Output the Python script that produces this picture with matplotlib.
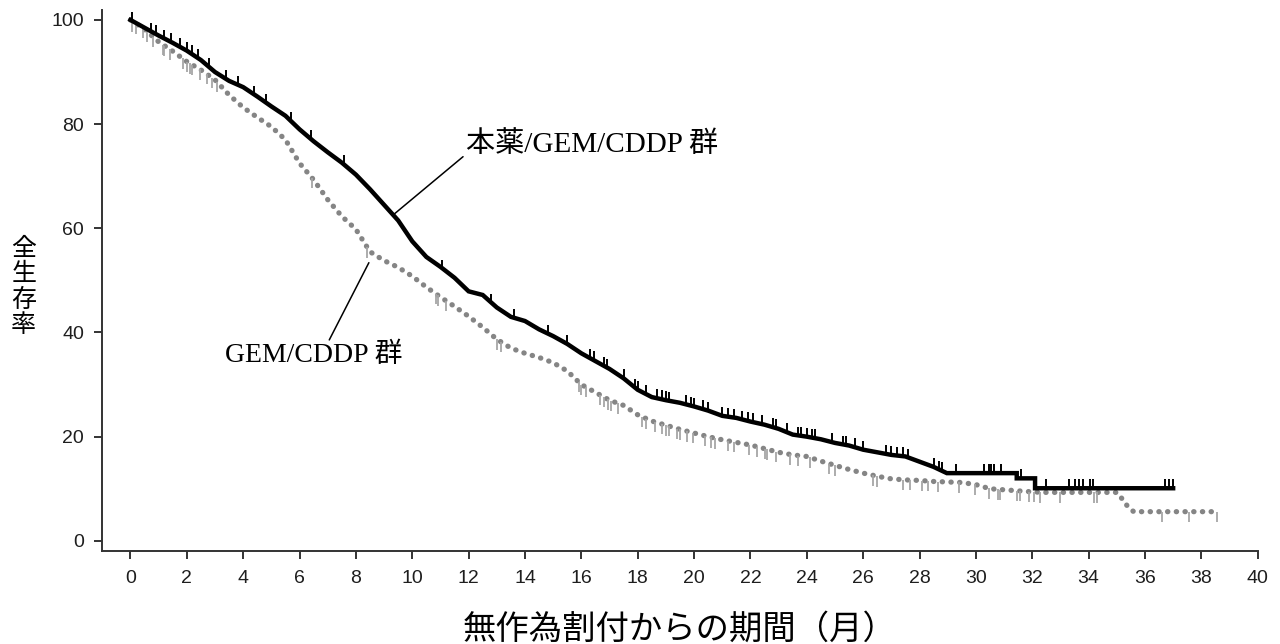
import numpy as np
import matplotlib
matplotlib.use("Agg")
import matplotlib.pyplot as plt

# 本薬/GEM/CDDP 群 (black, solid)
t_drug = [0, 0.5, 1.0, 1.5, 2.0, 2.5, 3.0, 3.5, 4.0, 4.5, 5.0, 5.5, 6.0, 6.5, 7.0,
          7.5, 8.0, 8.5, 9.0, 9.5, 10.0, 10.5, 11.0, 11.5, 12.0, 12.5, 13.0, 13.5,
          14.0, 14.5, 15.0, 15.5, 16.0, 16.5, 17.0, 17.5, 18.0, 18.5, 19.0, 19.5,
          20.0, 20.5, 21.0, 21.5, 22.0, 22.5, 23.0, 23.5, 24.0, 24.5, 25.0, 25.5,
          26.0, 26.5, 27.0, 27.5, 28.0, 28.5, 28.97, 31.45, 31.45, 32.1, 32.1, 37.0]
s_drug = [100, 98.5, 97.0, 95.6, 94.1, 92.3, 90.0, 88.3, 87.1, 85.3, 83.4, 81.6,
          79.0, 76.7, 74.6, 72.6, 70.3, 67.5, 64.5, 61.5, 57.5, 54.5, 52.6, 50.5,
          47.9, 47.2, 44.8, 43.0, 42.2, 40.6, 39.3, 37.8, 36.0, 34.5, 33.0, 31.2,
          29.0, 27.6, 27.0, 26.5, 25.8, 25.0, 24.0, 23.6, 22.9, 22.3, 21.5, 20.4,
          20.0, 19.5, 18.8, 18.3, 17.5, 17.0, 16.5, 16.2, 15.2, 14.2, 13.0, 13.0,
          12.0, 12.0, 10.1, 10.1]
c_drug = [0.05, 0.74, 0.92, 1.2, 1.45, 1.75, 2.0, 2.17, 2.4, 2.8, 3.4, 3.8, 4.4,
          4.8, 5.7, 6.4, 7.57, 11.07, 12.8, 13.6, 14.8, 15.5, 16.3, 16.45, 16.8,
          16.9, 17.5, 17.9, 18.0, 18.3, 18.7, 18.85, 19.0, 19.1, 19.7, 19.9, 20.0,
          20.3, 20.5, 21.0, 21.2, 21.4, 21.7, 21.9, 22.1, 22.4, 22.8, 22.9, 23.3,
          23.7, 23.8, 24.0, 24.2, 24.3, 24.9, 25.3, 25.4, 25.7, 26.0, 26.8, 27.0,
          27.2, 27.4, 27.6, 28.5, 28.7, 28.8, 29.3, 30.3, 30.45, 30.55, 30.65,
          30.9, 31.6, 32.5, 33.3, 33.5, 33.65, 33.8, 34.05, 34.15, 36.7, 36.85,
          37.0]

# GEM/CDDP 群 (gray, dotted)
t_ctrl = [0, 0.5, 1.0, 1.5, 2.0, 2.5, 3.0, 3.5, 4.0, 4.5, 5.0, 5.5, 6.0, 6.5, 7.0,
          7.5, 8.0, 8.5, 9.0, 9.5, 10.0, 10.5, 11.0, 11.5, 12.0, 12.5, 13.0, 13.5,
          14.0, 14.5, 15.0, 15.5, 16.0, 16.5, 17.0, 17.5, 18.0, 18.5, 19.0, 19.5,
          20.0, 20.5, 21.0, 21.5, 22.0, 22.5, 23.0, 23.5, 24.0, 24.5, 25.0, 25.5,
          26.0, 26.5, 27.0, 27.5, 28.0, 28.5, 29.0, 29.5, 30.0, 30.5, 31.0, 31.5,
          32.0, 32.4, 35.0, 35.2, 35.4, 35.6, 38.55]
s_ctrl = [100, 98.2, 95.8, 94.0, 92.0, 90.4, 88.5, 85.6, 83.2, 81.3, 79.5, 77.0,
          72.5, 69.3, 65.5, 62.3, 59.8, 55.5, 53.8, 52.5, 50.8, 48.7, 46.8, 45.0,
          43.1, 41.0, 38.7, 37.0, 36.0, 35.2, 34.2, 32.6, 30.0, 28.5, 27.0, 26.0,
          24.2, 23.0, 22.2, 21.4, 20.7, 20.0, 19.4, 18.9, 18.4, 17.7, 17.0, 16.5,
          16.2, 15.3, 14.5, 13.7, 13.0, 12.4, 11.9, 11.7, 11.6, 11.4, 11.3, 11.2,
          10.8, 10.0, 9.8, 9.6, 9.4, 9.3, 9.3, 8.0, 6.5, 5.6, 5.6]
c_ctrl = [0.07, 0.2, 0.43, 0.6, 0.8, 1.15, 1.2, 1.4, 1.85, 2.0, 2.1, 2.2, 2.46,
          2.7, 2.9, 3.07, 6.44, 8.4, 10.84, 10.9, 11.2, 13.0, 13.15, 15.9, 16.0,
          16.15, 16.65, 16.8, 16.95, 17.05, 17.3, 18.15, 18.3, 18.6, 18.85, 19.0,
          19.1, 19.4, 19.5, 19.75, 19.95, 20.4, 20.6, 20.76, 21.2, 21.4, 21.95,
          22.24, 22.5, 22.6, 22.9, 23.4, 23.7, 24.1, 24.8, 25.0, 26.35, 26.5, 27.4,
          27.65, 28.1, 28.3, 28.66, 29.4, 29.97, 30.46, 30.8, 30.87, 31.45, 31.57,
          31.87, 32.05, 32.29, 33.0, 34.2, 34.3, 36.6, 37.55, 38.55]

x_ticks = list(range(0, 41, 2))
y_ticks = [0, 20, 40, 60, 80, 100]

label_drug = "本薬/GEM/CDDP 群"
label_ctrl = "GEM/CDDP 群"
xlabel = "無作為割付からの期間（月）"
ylabel = "全\n生\n存\n率"

jp_font = ["Liberation Serif", "Noto Sans CJK JP"]
num_font = "Liberation Sans"

fig = plt.figure(figsize=(12.8, 6.44), dpi=100)
ax = fig.add_axes([0.0797, 0.1444, 0.9033, 0.840])

# gray control arm: dotted curve + downward censor ticks
ax.plot(t_ctrl, s_ctrl, color="#858585", lw=3.8,
        linestyle=(0, (0.05, 1.6)), dash_capstyle="round")
cy = np.interp(c_ctrl, t_ctrl, s_ctrl)
ax.vlines(c_ctrl, cy - 2.0, cy, color="#a6a6a6", lw=1.3)

# black drug arm: thick curve + upward censor ticks
ax.plot(t_drug, s_drug, color="black", lw=3.2, solid_joinstyle="miter")
by = np.interp(c_drug, t_drug, s_drug)
ax.vlines(c_drug, by, by + 1.7, color="black", lw=1.4)

# annotations
ax.annotate(label_drug, xy=(9.35, 62.7), xytext=(11.9, 76.0),
            fontsize=21, family=jp_font, ha="left", va="center",
            arrowprops=dict(arrowstyle="-", color="black", lw=1.1,
                            shrinkA=0, shrinkB=0, relpos=(0, 0.15)))
ax.annotate(label_ctrl, xy=(8.46, 53.4), xytext=(6.5, 35.6),
            fontsize=20, family=jp_font, ha="center", va="center",
            arrowprops=dict(arrowstyle="-", color="black", lw=1.1,
                            shrinkA=0, shrinkB=0, relpos=(0.58, 1.0)))

ax.set_xlim(-1.01, 40.02)
ax.set_ylim(-1.95, 101.9)
ax.set_xticks(x_ticks)
ax.set_yticks(y_ticks)
for side in ("top", "right"):
    ax.spines[side].set_visible(False)
for side in ("left", "bottom"):
    ax.spines[side].set_color("#333333")
    ax.spines[side].set_linewidth(1.4)
ax.spines["bottom"].set_bounds(-1.01, 40.0)
ax.tick_params(axis="both", direction="out", length=6, width=1.4,
               color="#333333", labelsize=14, labelcolor="#1e1e1e")
ax.tick_params(axis="x", pad=8)
ax.tick_params(axis="y", pad=7)
for lab in ax.get_xticklabels() + ax.get_yticklabels():
    lab.set_family(num_font)

fig.text(0.531, 0.022, xlabel, fontsize=24, family=jp_font,
         ha="center", va="center")
fig.text(0.0185, 0.553, ylabel, fontsize=18, family=jp_font,
         ha="center", va="center", linespacing=1.15)

fig.savefig("out.png", dpi=100)
